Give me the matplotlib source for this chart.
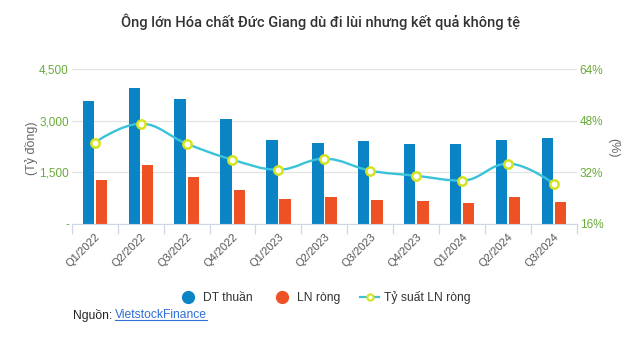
import numpy as np
import matplotlib
matplotlib.use('Agg')
import matplotlib.pyplot as plt
from matplotlib.path import Path
from matplotlib.patches import PathPatch
from matplotlib.lines import Line2D

plt.rcParams['font.family'] = ['Liberation Sans', 'DejaVu Sans']

quarters = ['Q1/2022', 'Q2/2022', 'Q3/2022', 'Q4/2022', 'Q1/2023', 'Q2/2023',
            'Q3/2023', 'Q4/2023', 'Q1/2024', 'Q2/2024', 'Q3/2024']
dt_thuan = [3576, 3954, 3634, 3051, 2439, 2352, 2410, 2323, 2323, 2439, 2497]
ln_rong = [1282, 1711, 1361, 982, 720, 778, 691, 661, 603, 778, 632]
ty_suat = [41.2, 47.1, 40.9, 35.9, 32.8, 36.2, 32.5, 30.9, 29.4, 34.7, 28.4]

c_blue = '#0b84c6'
c_orange = '#ee5224'
c_line = '#3ac3d8'
c_marker = '#d7e21e'
c_green = '#6aaa3a'


def spline_path(xs, ys, smoothing=1.5):
    # highcharts-like spline: bezier control points from neighbours
    n = len(xs)
    lc = [None] * n
    rc = [None] * n
    denom = smoothing + 1
    for i in range(1, n - 1):
        x, y = xs[i], ys[i]
        lx, ly = xs[i - 1], ys[i - 1]
        nx, ny = xs[i + 1], ys[i + 1]
        lcx = (smoothing * x + lx) / denom
        lcy = (smoothing * y + ly) / denom
        rcx = (smoothing * x + nx) / denom
        rcy = (smoothing * y + ny) / denom
        corr = 0
        if rcx != lcx:
            corr = (rcy - lcy) * (rcx - x) / (rcx - lcx) + y - rcy
        lcy += corr
        rcy += corr
        if lcy > ly and lcy > y:
            lcy = max(ly, y); rcy = 2 * y - lcy
        elif lcy < ly and lcy < y:
            lcy = min(ly, y); rcy = 2 * y - lcy
        if rcy > ny and rcy > y:
            rcy = max(ny, y); lcy = 2 * y - rcy
        elif rcy < ny and rcy < y:
            rcy = min(ny, y); lcy = 2 * y - rcy
        lc[i] = (lcx, lcy)
        rc[i] = (rcx, rcy)
    verts = [(xs[0], ys[0])]
    codes = [Path.MOVETO]
    for i in range(1, n):
        verts += [rc[i - 1] or (xs[i - 1], ys[i - 1]), lc[i] or (xs[i], ys[i]), (xs[i], ys[i])]
        codes += [Path.CURVE4] * 3
    return Path(verts, codes)


fig = plt.figure(figsize=(6.41, 3.39), dpi=100)
ax = fig.add_axes([71.7 / 641, 1 - 223.7 / 339, 505.3 / 641, 154.4 / 339])
ax2 = ax.twinx()

x = np.arange(len(quarters))
w = 0.245
ax.bar(x - 0.14, dt_thuan, w, color=c_blue, zorder=2)
ax.bar(x + 0.145, ln_rong, w, color=c_orange, zorder=2)

ax.set_xlim(-0.5, len(quarters) - 0.5)
ax.set_ylim(0, 4500)
ax.set_yticks([0, 1500, 3000, 4500])
ax.set_yticklabels(['-', '1,500', '3,000', '4,500'])
ax.grid(axis='y', color='#e3e3e3', linewidth=0.9, zorder=0)
ax.set_axisbelow(True)

ax2.add_patch(PathPatch(spline_path(list(x), ty_suat), fill=False, edgecolor=c_line, lw=1.7, zorder=3))
ax2.plot(x, ty_suat, ls='none', marker='o', ms=6, mfc='white', mec=c_marker, mew=1.8, zorder=4)
ax2.set_ylim(16, 64)
ax2.set_yticks([16, 32, 48, 64])
ax2.set_yticklabels(['16%', '32%', '48%', '64%'])

for a in (ax, ax2):
    for s in a.spines.values():
        s.set_visible(False)
    a.tick_params(axis='y', length=0, labelsize=8.5, labelcolor=c_green, pad=2)
ax.spines['bottom'].set_visible(True)
ax.spines['bottom'].set_color('#cfd6e6')

ax.set_xticks(np.arange(len(quarters) + 1) - 0.5, minor=True)
ax.set_xticks(x)
ax.set_xticklabels(quarters, rotation=45, ha='right', va='top', rotation_mode='anchor',
                   fontsize=8, color='#555555')
ax.tick_params(axis='x', which='major', length=0, pad=6)
ax.tick_params(axis='x', which='minor', length=7, color='#cfd6e6', width=0.9)

fig.text(31 / 641, 1 - 148 / 339, '(Tỷ đồng)', rotation=90, ha='center', va='center',
         fontsize=9, color='#666666')
fig.text(613 / 641, 1 - 148 / 339, '(%)', rotation=-90, ha='center', va='center',
         fontsize=9, color='#666666')

fig.text(0.5, 1 - 22 / 339, 'Ông lớn Hóa chất Đức Giang dù đi lùi nhưng kết quả không tệ',
         ha='center', va='center', fontsize=10.5, fontweight='medium', color='#333333',
         family=['Roboto', 'Liberation Sans', 'DejaVu Sans'], fontstretch='condensed')

handles = [
    Line2D([], [], ls='none', marker='o', ms=8.5, color=c_blue),
    Line2D([], [], ls='none', marker='o', ms=8.5, color=c_orange),
    Line2D([], [], color=c_line, lw=1.6, marker='o', ms=4.5, mfc='white', mec=c_marker, mew=1.5),
]
fig.legend(handles, ['DT thuần', 'LN ròng', 'Tỷ suất LN ròng'], loc='center',
           bbox_to_anchor=(0.507, 1 - 297.7 / 339), ncol=3, frameon=False, fontsize=8.7,
           handlelength=1.5, handletextpad=0.45, columnspacing=1.7, labelcolor='#333333')

fig.text(72.7 / 641, 1 - 315 / 339, 'Nguồn: ', ha='left', va='center', fontsize=8.7, color='#222222')
link = fig.text(115 / 641, 1 - 315 / 339, 'VietstockFinance', ha='left', va='center',
                fontsize=8.7, color='#2f6fd6')
fig.canvas.draw()
bb = link.get_window_extent().transformed(fig.transFigure.inverted())
fig.add_artist(Line2D([bb.x0, bb.x1], [bb.y0 + 0.004, bb.y0 + 0.004], color='#2f6fd6', lw=0.8,
                      transform=fig.transFigure))

fig.savefig('out.png', dpi=100, facecolor='white')
